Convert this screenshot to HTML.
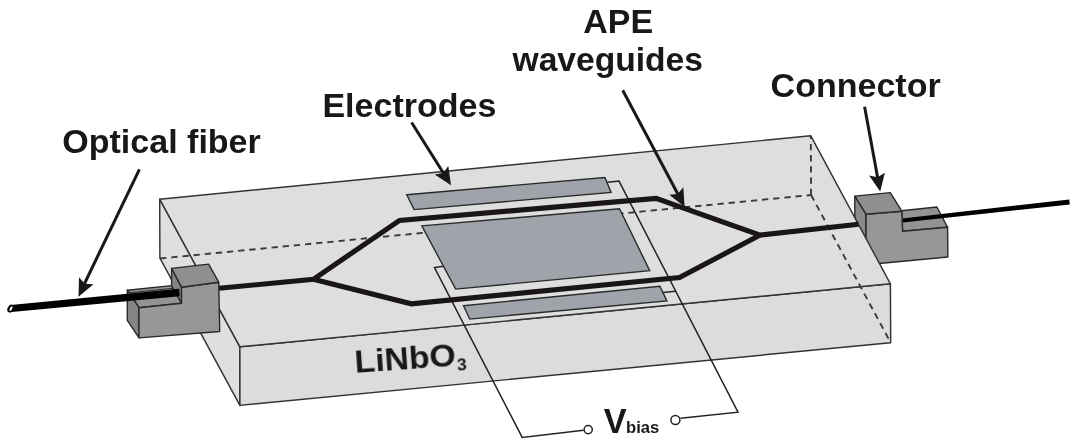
<!DOCTYPE html>
<html><head><meta charset="utf-8"><title>LiNbO3 Mach-Zehnder modulator</title>
<style>
html,body{margin:0;padding:0;background:#fff;}
svg{display:block;}
text{font-family:"Liberation Sans",Arial,Helvetica,sans-serif;font-weight:bold;fill:#1a1718;}
</style></head>
<body>
<svg width="1080" height="447" viewBox="0 0 1080 447">
<rect width="1080" height="447" fill="#fff"/>

<!-- right connector + fiber (behind slab) -->
<g stroke="#2a2a2a" stroke-width="1.4" stroke-linejoin="round">
  <polygon points="901.5,210.7 936.9,207 947.6,227.3 902.6,231.2" fill="#939393"/>
  <polygon points="902.3,218.5 1069.2,199.4 1069.8,204.6 902.7,222.4" fill="#000" stroke="none"/>
  <polygon points="865.8,214.2 901.8,211.2 902.6,231.2 947.6,227.3 947.9,257 865.8,264.7" fill="#979797"/>
  <polygon points="854.8,196.1 890.3,192.6 901.8,211.2 865.8,214.2" fill="#8f8f8f"/>
  <polygon points="854.8,196.1 865.8,214.2 865.8,264.7 854.8,246.5" fill="#8a8a8a"/>
</g>

<!-- slab -->
<g stroke="#333" stroke-width="1.45" stroke-linejoin="round">
  <polygon points="159.7,199.2 239.9,346.8 239.9,405.4 159.9,258.1" fill="#dfdfdf"/>
  <polygon points="239.9,346.8 890.4,283.8 890.7,342.7 239.9,405.4" fill="#dcdcdc"/>
  <polygon points="159.7,199.2 810.8,135.8 890.4,283.8 239.9,346.8" fill="#dedede"/>
</g>
<!-- hidden edges -->
<g stroke="#3a3a3a" stroke-width="1.9" fill="none" stroke-dasharray="6.3 4.9">
  <line x1="160.1" y1="258.5" x2="811.1" y2="195"/>
  <line x1="811.1" y1="195" x2="810.8" y2="135.8"/>
  <line x1="811.1" y1="195" x2="890.7" y2="342.7"/>
</g>

<!-- wires -->
<g stroke="#222" stroke-width="1.5" fill="none" stroke-linejoin="miter">
  <polyline points="607.3,182.3 619,181.1 738,412.2 680.5,418.3"/>
  <polyline points="663,292.4 675.5,291.2"/>
  <polyline points="443.5,266.3 434.5,267.5 522.2,437.4 583.5,430.3"/>
  <circle cx="675.4" cy="420" r="4.5" fill="#fff" stroke-width="1.5"/>
  <circle cx="588.2" cy="429.6" r="4.1" fill="#fff" stroke-width="1.5"/>
</g>

<!-- electrodes -->
<g stroke="#2a2a2a" stroke-width="1.4" fill="#9ea4aa" stroke-linejoin="miter">
  <polygon points="406.7,194.7 604.9,177.5 611.1,192.4 414.1,209.6"/>
  <polygon points="421.8,225.9 619.5,208.8 649.7,270.6 455.7,289.1"/>
  <polygon points="463.5,305.7 659.9,286.3 666.9,300.9 469.7,319.1"/>
</g>

<!-- waveguides -->
<g stroke="#1a1516" stroke-width="5.1" fill="none" stroke-linejoin="miter">
  <polyline points="219,288.3 313.4,279.3 399.5,220.4 656.1,198.4 760.1,235.1 858.5,224.3"/>
  <polyline points="313.4,279.3 411.3,303.8 679.5,277.5 760.1,235.1"/>
</g>

<!-- left connector + fiber -->
<g stroke="#2a2a2a" stroke-width="1.4" stroke-linejoin="round">
  <polygon points="127.3,290.2 171.6,285.6 181.6,303.2 139,307.7" fill="#939393"/>
  <line x1="129.2" y1="292.8" x2="173" y2="288.3" stroke-width="1"/>
  <polygon points="171.6,268.4 181.5,287.2 181.6,303.2 171.6,285.6" fill="#858585"/>
  <polygon points="127.3,290.2 139,307.7 139,337.9 127.3,320.4" fill="#858585"/>
  <polygon points="10.8,305.1 179.05,288.8 179.75,296.2 11.6,312" fill="#000" stroke="none"/>
  <ellipse cx="10.7" cy="308.6" rx="3.1" ry="4.1" transform="rotate(28 10.7 308.6)" fill="#000" stroke="none"/>
  <ellipse cx="11" cy="308.6" rx="1.1" ry="2.6" transform="rotate(28 11 308.6)" fill="#fff" stroke="none"/>
  <polygon points="181.5,287.2 218.7,282.2 219.7,331.5 139,337.9 139,307.7 181.6,303.2" fill="#979797"/>
  <polygon points="171.6,268.4 208.6,264.1 218.7,282.2 181.5,287.2" fill="#8f8f8f"/>
</g>

<!-- arrows -->
<g stroke="#1a1718" stroke-width="3" fill="none">
  <line x1="139.4" y1="169.4" x2="83.6" y2="285.5"/>
  <line x1="411.6" y1="122.5" x2="444" y2="174"/>
  <line x1="622.7" y1="90.2" x2="678.5" y2="195.3"/>
  <line x1="864.6" y1="106.7" x2="878" y2="179.5"/>
</g>
<g fill="#1a1718" stroke="none">
  <path d="M0,0 L-17.8,8 L-14.6,0 L-17.8,-8 Z" transform="translate(78.5,296.8) rotate(115.7)"/>
  <path d="M0,0 L-17.8,8 L-14.6,0 L-17.8,-8 Z" transform="translate(451,185.3) rotate(57.9)"/>
  <path d="M0,0 L-17.8,8 L-14.6,0 L-17.8,-8 Z" transform="translate(684.6,206.8) rotate(62)"/>
  <path d="M0,0 L-17.8,8 L-14.6,0 L-17.8,-8 Z" transform="translate(880.2,191.6) rotate(79.6)"/>
</g>

<!-- labels -->
<g opacity="0.999">
<text id="t1" transform="translate(62.3,152.6) scale(1.016,1)" font-size="33.5">Optical fiber</text>
<text id="t2" transform="translate(322.4,116.8) scale(1.016,1)" font-size="33.5">Electrodes</text>
<text id="t3" transform="translate(583.2,33.2) scale(1.016,1)" font-size="33.5">APE</text>
<text id="t4" transform="translate(512.5,70.5) scale(1.003,1)" font-size="33.5">waveguides</text>
<text id="t5" transform="translate(770.6,97) scale(1.016,1)" font-size="33.5">Connector</text>
<text id="t6" transform="translate(355.3,372.8) rotate(-4) scale(1.057,1)" font-size="32">LiNbO<tspan font-size="16.5" dy="5.2" dx="0.6">3</tspan></text>
<text id="t7" transform="translate(603.8,433.2)" font-size="34.3">V<tspan font-size="16.6" dx="-0.6">bias</tspan></text>
</g>
</svg>
</body></html>
